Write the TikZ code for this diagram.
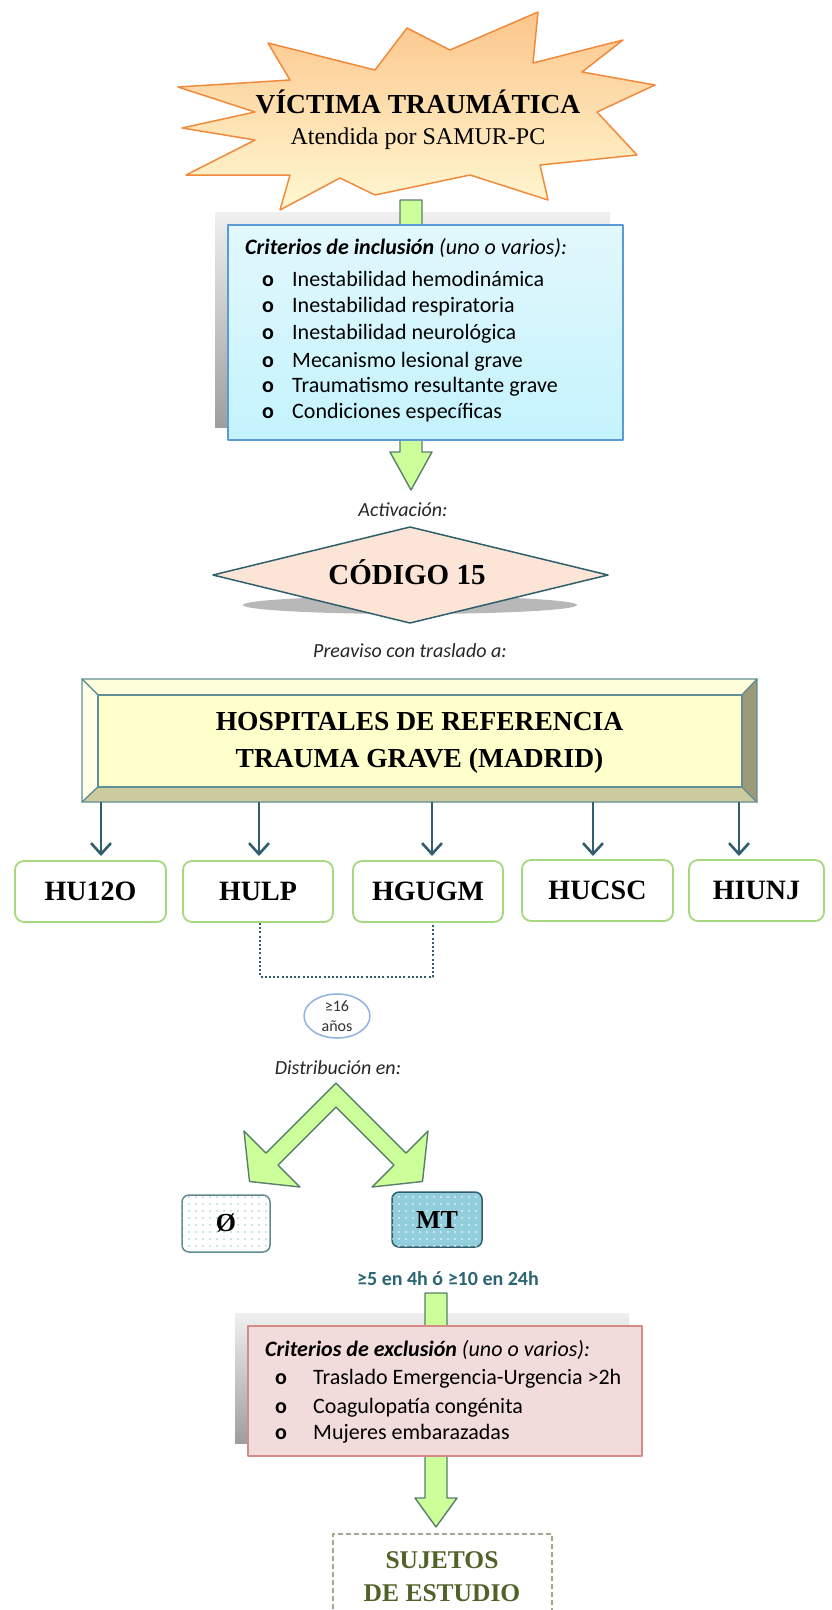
\documentclass[tikz,border=0pt]{standalone}
\usepackage{fontspec}
\setmainfont{Liberation Serif}
\newfontfamily\calfont{Carlito}
\usetikzlibrary{arrows.meta,shapes.geometric,patterns.meta}
\definecolor{cTeal}{HTML}{2F5F6D}
\definecolor{cGreen}{HTML}{CCFF99}
\definecolor{cGreenLine}{HTML}{5A7F6A}
\definecolor{cStarLine}{HTML}{F08A3C}
\definecolor{cStarTop}{HTML}{FCC68C}
\definecolor{cStarBot}{HTML}{FFF8D2}
\definecolor{cIncTop}{HTML}{E2F8FC}
\definecolor{cIncBot}{HTML}{C4F3FD}
\definecolor{cIncLine}{HTML}{5B9BD5}
\definecolor{cDiaFill}{HTML}{FCE4D6}
\definecolor{cBevLine}{HTML}{628F95}
\definecolor{cBevTop}{HTML}{FFFFDC}
\definecolor{cBevLeft}{HTML}{FFFFE8}
\definecolor{cBevBot}{HTML}{CBCB9F}
\definecolor{cBevRight}{HTML}{9D9A77}
\definecolor{cBevMid}{HTML}{FFFFCC}
\definecolor{cHbox}{HTML}{A6D880}
\definecolor{cEll}{HTML}{8DB3E2}
\definecolor{cObox}{HTML}{5F8A8F}
\definecolor{cDotBlue}{HTML}{9CCAD6}
\definecolor{cMT}{HTML}{92CDDC}
\definecolor{cNote}{HTML}{2B6472}
\definecolor{cExcFill}{HTML}{F2DCDB}
\definecolor{cExcLine}{HTML}{D58A88}
\definecolor{cSujLine}{HTML}{A6A68C}
\definecolor{cSujText}{HTML}{4F6228}
\newcommand{\bul}[1]{\makebox[#1][l]{\bfseries o}}
\begin{document}
\begin{tikzpicture}[x=1pt,y=-1pt,line join=round,
  garrow/.style={fill=cGreen,draw=cGreenLine,line width=1.4pt},
  lbl/.style={font=\calfont\itshape\fontsize{20}{24}\selectfont,text=black!85,inner sep=0pt},
  listtxt/.style={anchor=base west,inner sep=0pt,font=\calfont\fontsize{22}{25}\selectfont},
  hbox/.style={draw=cHbox,line width=1.8pt,rounded corners=9pt,fill=white,inner sep=0pt,
    minimum height=61pt,font=\bfseries\fontsize{28}{30}\selectfont},
  harrow/.style={draw=cTeal,line width=2.6pt,-{Straight Barb[length=11pt,width=20pt]}},
  shadowbox/.style={top color=black!6,bottom color=black!38,draw=none},
  serifhead/.style={anchor=base,inner sep=0pt,font=\bfseries\fontsize{27.5}{30}\selectfont},
]
\useasboundingbox (0,0) rectangle (831,1610);

% ---------- star ----------
\path[draw=cStarLine,line width=1.5pt,top color=cStarTop,bottom color=cStarBot]
  (178,87) -- (290,80) -- (268,43) -- (375,70) -- (407,28) -- (450,50) -- (538,12)
  -- (533,63) -- (623,40) -- (582,72) -- (655,85) -- (597,112) -- (637,155)
  -- (540,165) -- (548,200) -- (470,175) -- (375,195) -- (340,178) -- (280,210)
  -- (290,175) -- (186,175) -- (255,140) -- (182,128) -- (255,112) -- cycle;
\node[serifhead] (st1) at (418,113) {VÍCTIMA TRAUMÁTICA};
\node[anchor=base,inner sep=0pt,font=\fontsize{24}{28}\selectfont] (st2) at (418,144) {Atendida por SAMUR-PC};

% ---------- inclusion ----------
\shade[shadowbox] (215,212) rectangle (610,427);
\draw[garrow] (400,200) -- (422,200) -- (422,452) -- (432,452) -- (411,490) -- (390,452) -- (400,452) -- cycle;
\node[draw=cIncLine,line width=1.8pt,top color=cIncTop,bottom color=cIncBot,
  minimum width=395pt,minimum height=215pt,inner sep=0pt,anchor=north west] (inc) at (227,224) {};
\node[listtxt] (inc0) at (245,254) {\textbf{\textit{Criterios de inclusión}} \textit{(uno o varios):}};
\node[listtxt] (inc1) at (262,286) {\bul{30pt}Inestabilidad hemodinámica};
\node[listtxt] (inc2) at (262,312) {\bul{30pt}Inestabilidad respiratoria};
\node[listtxt] (inc3) at (262,339) {\bul{30pt}Inestabilidad neurológica};
\node[listtxt] (inc4) at (262,367) {\bul{30pt}Mecanismo lesional grave};
\node[listtxt] (inc5) at (262,392) {\bul{30pt}Traumatismo resultante grave};
\node[listtxt] (inc6) at (262,418) {\bul{30pt}Condiciones específicas};

% ---------- codigo 15 ----------
\node[lbl] (act) at (403,510) {Activación:};
\fill[black!28] (410,605) ellipse [x radius=167pt,y radius=9pt];
\draw[draw=cTeal,fill=cDiaFill,line width=1.5pt] (213,575) -- (410,527) -- (608,575) -- (410,623) -- cycle;
\node[anchor=base,inner sep=0pt,font=\bfseries\fontsize{29}{32}\selectfont] (code) at (407,584) {CÓDIGO 15};
\node[lbl] (prev) at (410,651) {Preaviso con traslado a:};

% ---------- hospitales box ----------
\node[inner sep=0pt,minimum width=675pt,minimum height=123pt] (hosp) at (419.5,740.5) {};
\begin{scope}[draw=cBevLine,line width=1.2pt]
\filldraw[fill=cBevTop] (82,679) -- (757,679) -- (742,695) -- (98,695) -- cycle;
\filldraw[fill=cBevLeft] (82,679) -- (98,695) -- (98,787) -- (82,802) -- cycle;
\filldraw[fill=cBevBot] (82,802) -- (98,787) -- (742,787) -- (757,802) -- cycle;
\filldraw[fill=cBevRight] (757,679) -- (757,802) -- (742,787) -- (742,695) -- cycle;
\filldraw[fill=cBevMid] (98,695) rectangle (742,787);
\end{scope}
\node[serifhead] (ht1) at (419.5,730) {HOSPITALES DE REFERENCIA};
\node[serifhead] (ht2) at (419.5,767) {TRAUMA GRAVE (MADRID)};

% ---------- hospitals ----------
\node[hbox,minimum width=151pt] (h1) at (90.5,891.5) {HU12O};
\node[hbox,minimum width=150pt] (h2) at (258,891.5) {HULP};
\node[hbox,minimum width=150pt] (h3) at (428,891.5) {HGUGM};
\node[hbox,minimum width=151pt] (h4) at (597.5,890.5) {HUCSC};
\node[hbox,minimum width=135pt] (h5) at (756.5,890.5) {HIUNJ};
\coordinate (t1) at (101,856);
\coordinate (t2) at (259,856);
\coordinate (t3) at (432,856);
\coordinate (t4) at (593,856);
\coordinate (t5) at (739,856);
\foreach \t in {t1,t2,t3,t4,t5}{\draw[harrow] (\t |- hosp.south) -- (\t);}

% ---------- dotted bracket, age ----------
\coordinate (d1) at (260,977);
\coordinate (d2) at (433,977);
\draw[cTeal,line width=2.4pt,dash pattern=on 2pt off 2.2pt] (d1 |- h2.south) -- (d1) -- (d2) -- (d2 |- h3.south);
\node[ellipse,draw=cEll,line width=1.5pt,fill=white,minimum width=66pt,minimum height=44pt,inner sep=0pt,
  align=center,font=\calfont\fontsize{16}{20}\selectfont,text=black!80] (age) at (337,1016) {≥16\\años};
\node[lbl] (dist) at (338,1068) {Distribución en:};

% ---------- split arrow ----------
\draw[garrow] (336,1083) -- (266,1153) -- (244,1131) -- (249.5,1181.5) -- (300,1187) -- (278,1165)
  -- (336,1107) -- (394,1165) -- (372,1187) -- (422.5,1181.5) -- (428,1131) -- (406,1153) -- cycle;

\node[draw=cObox,line width=1.5pt,rounded corners=7pt,fill=white,minimum width=88pt,minimum height=57pt,inner sep=0pt,
  postaction={pattern={Dots[distance=7pt,radius=0.8pt]},pattern color=cDotBlue},
  font=\bfseries\fontsize{26}{28}\selectfont] (phi) at (226,1223.5) {Ø};
\node[draw=cTeal,line width=1.5pt,rounded corners=7pt,fill=cMT,minimum width=90pt,minimum height=55pt,inner sep=0pt,
  postaction={pattern={Dots[distance=7pt,radius=0.8pt]},pattern color=white},
  font=\bfseries\fontsize{26}{28}\selectfont] (mt) at (437,1219.5) {MT};

\node[anchor=base,inner sep=0pt,font=\calfont\bfseries\fontsize{20}{24}\selectfont,text=cNote] (note) at (448,1285) {≥5 en 4h ó ≥10 en 24h};

% ---------- exclusion ----------
\shade[shadowbox] (235,1313) rectangle (629,1443);
\draw[garrow] (425,1293) -- (447,1293) -- (447,1498) -- (457,1498) -- (436,1527) -- (415,1498) -- (425,1498) -- cycle;
\node[draw=cExcLine,fill=cExcFill,line width=1.8pt,minimum width=394pt,minimum height=130pt,inner sep=0pt,anchor=north west] (exc) at (247,1325) {};
\node[listtxt] (exc0) at (265,1356) {\textbf{\textit{Criterios de exclusión}} \textit{(uno o varios):}};
\node[listtxt] (exc1) at (275,1384) {\bul{38pt}Traslado Emergencia-Urgencia >2h};
\node[listtxt] (exc2) at (275,1413) {\bul{38pt}Coagulopatía congénita};
\node[listtxt] (exc3) at (275,1439) {\bul{38pt}Mujeres embarazadas};

% ---------- sujetos ----------
\node[draw=cSujLine,dash pattern=on 5pt off 3pt,line width=1.5pt,fill=white,minimum width=219pt,minimum height=100pt,
  inner sep=0pt,anchor=north west] (suj) at (332,1533) {};
\node[anchor=base,inner sep=0pt,font=\bfseries\fontsize{25.5}{28}\selectfont,text=cSujText] (suj1) at (442,1568) {SUJETOS};
\node[anchor=base,inner sep=0pt,font=\bfseries\fontsize{25.5}{28}\selectfont,text=cSujText] (suj2) at (442,1601) {DE ESTUDIO};
\end{tikzpicture}
\end{document}
